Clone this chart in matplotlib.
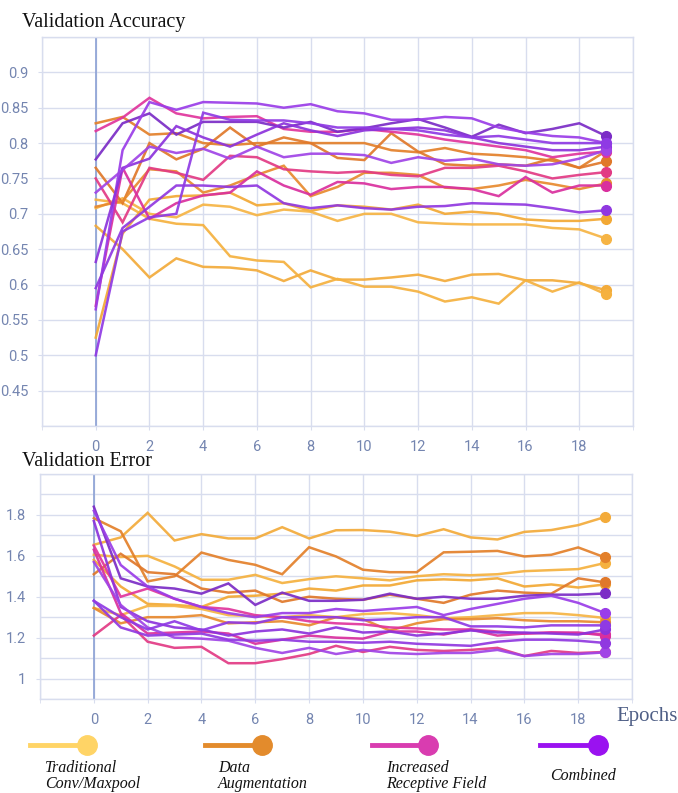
import matplotlib
matplotlib.use("Agg")
import matplotlib.pyplot as plt
from matplotlib.lines import Line2D

epochs = list(range(20))

# ---- validation accuracy, one list per run ----
acc_trad_1 = [0.683, 0.650, 0.610, 0.637, 0.625, 0.624, 0.620, 0.605, 0.620, 0.607, 0.607, 0.610, 0.614, 0.605, 0.614, 0.615, 0.606, 0.606, 0.602, 0.592]
acc_trad_2 = [0.720, 0.715, 0.693, 0.686, 0.684, 0.640, 0.634, 0.632, 0.596, 0.608, 0.597, 0.597, 0.590, 0.576, 0.582, 0.573, 0.606, 0.590, 0.603, 0.586]
acc_trad_3 = [0.525, 0.672, 0.720, 0.725, 0.726, 0.730, 0.712, 0.715, 0.704, 0.712, 0.710, 0.706, 0.713, 0.700, 0.703, 0.700, 0.692, 0.690, 0.690, 0.693]
acc_trad_4 = [0.708, 0.722, 0.700, 0.695, 0.713, 0.710, 0.698, 0.706, 0.703, 0.690, 0.700, 0.700, 0.688, 0.686, 0.685, 0.685, 0.685, 0.680, 0.678, 0.665]

acc_aug_1 = [0.828, 0.837, 0.812, 0.814, 0.800, 0.797, 0.800, 0.800, 0.800, 0.800, 0.800, 0.790, 0.787, 0.793, 0.785, 0.783, 0.780, 0.775, 0.765, 0.789]
acc_aug_2 = [0.765, 0.715, 0.800, 0.777, 0.792, 0.822, 0.795, 0.808, 0.800, 0.779, 0.776, 0.814, 0.788, 0.770, 0.768, 0.770, 0.768, 0.778, 0.765, 0.774]
acc_aug_3 = [0.710, 0.718, 0.763, 0.760, 0.730, 0.740, 0.755, 0.768, 0.725, 0.738, 0.758, 0.758, 0.755, 0.737, 0.735, 0.740, 0.748, 0.742, 0.735, 0.743]

acc_rf_1 = [0.817, 0.836, 0.864, 0.842, 0.835, 0.837, 0.838, 0.820, 0.816, 0.816, 0.820, 0.816, 0.812, 0.805, 0.800, 0.795, 0.790, 0.780, 0.785, 0.788]
acc_rf_2 = [0.750, 0.688, 0.765, 0.758, 0.748, 0.782, 0.780, 0.763, 0.760, 0.758, 0.760, 0.755, 0.753, 0.765, 0.765, 0.768, 0.760, 0.750, 0.755, 0.759]
acc_rf_3 = [0.570, 0.765, 0.693, 0.715, 0.726, 0.730, 0.760, 0.740, 0.727, 0.745, 0.743, 0.735, 0.738, 0.738, 0.735, 0.725, 0.752, 0.730, 0.740, 0.740]

acc_comb_1 = [0.777, 0.828, 0.842, 0.812, 0.830, 0.830, 0.830, 0.822, 0.830, 0.816, 0.821, 0.828, 0.834, 0.822, 0.809, 0.826, 0.814, 0.820, 0.828, 0.810]
acc_comb_2 = [0.565, 0.790, 0.858, 0.847, 0.858, 0.857, 0.856, 0.850, 0.855, 0.845, 0.842, 0.833, 0.833, 0.837, 0.835, 0.822, 0.815, 0.810, 0.808, 0.800]
acc_comb_3 = [0.632, 0.765, 0.778, 0.824, 0.808, 0.795, 0.812, 0.828, 0.818, 0.810, 0.818, 0.820, 0.822, 0.818, 0.808, 0.800, 0.795, 0.790, 0.790, 0.795]
acc_comb_4 = [0.730, 0.762, 0.795, 0.786, 0.792, 0.778, 0.795, 0.780, 0.785, 0.785, 0.783, 0.772, 0.780, 0.775, 0.778, 0.770, 0.768, 0.770, 0.778, 0.790]
acc_comb_5 = [0.595, 0.680, 0.710, 0.740, 0.740, 0.738, 0.740, 0.715, 0.708, 0.712, 0.708, 0.706, 0.710, 0.711, 0.715, 0.714, 0.713, 0.708, 0.702, 0.705]
acc_comb_6 = [0.500, 0.675, 0.695, 0.700, 0.843, 0.833, 0.832, 0.832, 0.828, 0.822, 0.822, 0.820, 0.818, 0.812, 0.808, 0.810, 0.805, 0.800, 0.800, 0.800]

# ---- validation error ----
err_trad_1 = [1.654, 1.690, 1.810, 1.675, 1.706, 1.685, 1.685, 1.740, 1.685, 1.725, 1.726, 1.718, 1.697, 1.730, 1.690, 1.680, 1.717, 1.726, 1.750, 1.790]
err_trad_2 = [1.605, 1.594, 1.600, 1.548, 1.483, 1.483, 1.507, 1.467, 1.486, 1.500, 1.490, 1.480, 1.500, 1.510, 1.505, 1.510, 1.525, 1.530, 1.535, 1.565]
err_trad_3 = [1.580, 1.450, 1.365, 1.360, 1.350, 1.400, 1.405, 1.415, 1.440, 1.430, 1.455, 1.455, 1.480, 1.485, 1.480, 1.490, 1.450, 1.460, 1.445, 1.460]
err_trad_4 = [1.345, 1.310, 1.355, 1.355, 1.340, 1.310, 1.305, 1.300, 1.310, 1.300, 1.315, 1.320, 1.310, 1.295, 1.300, 1.310, 1.320, 1.320, 1.310, 1.296]

err_aug_1 = [1.784, 1.720, 1.475, 1.500, 1.616, 1.580, 1.556, 1.510, 1.642, 1.597, 1.532, 1.520, 1.520, 1.617, 1.620, 1.624, 1.597, 1.605, 1.641, 1.592]
err_aug_2 = [1.510, 1.610, 1.520, 1.510, 1.440, 1.420, 1.430, 1.375, 1.400, 1.390, 1.385, 1.410, 1.390, 1.370, 1.410, 1.430, 1.420, 1.415, 1.490, 1.470]
err_aug_3 = [1.345, 1.270, 1.300, 1.300, 1.310, 1.270, 1.275, 1.280, 1.260, 1.300, 1.290, 1.235, 1.270, 1.290, 1.290, 1.295, 1.285, 1.280, 1.280, 1.275]

err_rf_1 = [1.650, 1.400, 1.440, 1.390, 1.350, 1.340, 1.310, 1.300, 1.280, 1.270, 1.265, 1.250, 1.245, 1.240, 1.240, 1.230, 1.220, 1.225, 1.220, 1.218]
err_rf_2 = [1.210, 1.310, 1.180, 1.150, 1.155, 1.075, 1.075, 1.095, 1.120, 1.160, 1.130, 1.155, 1.140, 1.135, 1.140, 1.150, 1.110, 1.135, 1.125, 1.130]
err_rf_3 = [1.630, 1.320, 1.220, 1.225, 1.230, 1.220, 1.170, 1.190, 1.210, 1.200, 1.195, 1.230, 1.230, 1.215, 1.240, 1.210, 1.220, 1.225, 1.225, 1.210]

err_comb_1 = [1.840, 1.490, 1.450, 1.440, 1.415, 1.465, 1.360, 1.420, 1.380, 1.380, 1.385, 1.415, 1.390, 1.400, 1.390, 1.390, 1.405, 1.410, 1.410, 1.416]
err_comb_2 = [1.820, 1.555, 1.450, 1.390, 1.350, 1.320, 1.300, 1.320, 1.320, 1.340, 1.330, 1.340, 1.350, 1.310, 1.340, 1.365, 1.390, 1.405, 1.370, 1.320]
err_comb_3 = [1.770, 1.350, 1.280, 1.250, 1.240, 1.210, 1.230, 1.240, 1.220, 1.250, 1.225, 1.230, 1.210, 1.220, 1.235, 1.225, 1.225, 1.220, 1.215, 1.240]
err_comb_4 = [1.570, 1.360, 1.250, 1.200, 1.195, 1.185, 1.150, 1.125, 1.150, 1.120, 1.140, 1.125, 1.120, 1.125, 1.125, 1.140, 1.110, 1.120, 1.120, 1.128]
err_comb_5 = [1.380, 1.250, 1.210, 1.215, 1.220, 1.190, 1.185, 1.190, 1.180, 1.180, 1.175, 1.180, 1.170, 1.165, 1.160, 1.180, 1.190, 1.190, 1.185, 1.174]
err_comb_6 = [1.380, 1.300, 1.240, 1.280, 1.235, 1.275, 1.270, 1.300, 1.300, 1.300, 1.285, 1.290, 1.300, 1.300, 1.255, 1.255, 1.250, 1.260, 1.260, 1.260]

legend_labels = ["Traditional\nConv/Maxpool", "Data\nAugmentation", "Increased\nReceptive Field", "Combined"]
legend_colors = ["#ffd466", "#e38b2c", "#d93cb0", "#9a12f0"]

YEL = ["#f3ab3a", "#f5b13f", "#f2a834", "#f6b444"]
ORA = ["#e3802a", "#e0782a", "#e88a2e"]
PNK = ["#e0359c", "#e23a84", "#d92f9e"]
PUR = ["#7b2cc6", "#9a3de8", "#8c33dc", "#a044e6", "#9038e0", "#8f3ae4"]

acc_runs = ([(r, c) for r, c in zip([acc_trad_1, acc_trad_2, acc_trad_3, acc_trad_4], YEL)]
            + [(r, c) for r, c in zip([acc_aug_1, acc_aug_2, acc_aug_3], ORA)]
            + [(r, c) for r, c in zip([acc_rf_1, acc_rf_2, acc_rf_3], PNK)]
            + [(r, c) for r, c in zip([acc_comb_1, acc_comb_2, acc_comb_3, acc_comb_4, acc_comb_5, acc_comb_6], PUR)])
err_runs = ([(r, c) for r, c in zip([err_trad_1, err_trad_2, err_trad_3, err_trad_4], YEL)]
            + [(r, c) for r, c in zip([err_aug_1, err_aug_2, err_aug_3], ORA)]
            + [(r, c) for r, c in zip([err_rf_1, err_rf_2, err_rf_3], PNK)]
            + [(r, c) for r, c in zip([err_comb_1, err_comb_2, err_comb_3, err_comb_4, err_comb_5, err_comb_6], PUR)])

GRID = "#d8ddee"
TICK = "#7485b0"
ZERO = "#8aa0d4"

W, H = 678, 793
fig = plt.figure(figsize=(W / 100, H / 100), dpi=100)


def style_axes(ax, ymin, ymax, ystep_grid, yticks, ylabels):
    ax.set_xlim(-2, 20)
    ax.set_ylim(ymin, ymax)
    ax.set_xticks(range(0, 20, 2))
    ax.set_xticks(range(-2, 21, 2), minor=True)
    ax.set_yticks(yticks)
    ax.set_yticklabels(ylabels)
    n = int(round((ymax - ymin) / ystep_grid))
    ax.set_yticks([ymin + i * ystep_grid for i in range(n + 1)], minor=True)
    ax.grid(True, which="both", color=GRID, lw=1.0)
    ax.axvline(0, color=ZERO, lw=1.2, zorder=1.5)
    for s in ax.spines.values():
        s.set_color(GRID)
        s.set_linewidth(1.0)
    ax.tick_params(which="both", length=3, color=GRID, labelcolor=TICK, labelsize=10.5, pad=7)
    ax.tick_params(axis="y", which="minor", length=0)
    for lab in ax.get_xticklabels() + ax.get_yticklabels():
        lab.set_fontfamily("Roboto")
    ax.set_axisbelow(True)


def draw_runs(ax, runs):
    for vals, col in runs:
        ax.plot(epochs, vals, color=col, lw=1.8, alpha=0.92, solid_joinstyle="miter", zorder=2)
        ax.plot(epochs[-1], vals[-1], "o", color=col, ms=7, zorder=3)


ax1 = fig.add_axes([42 / W, 1 - 426 / H, (633 - 42) / W, (426 - 37) / H])
style_axes(ax1, 0.40, 0.95, 0.05,
           [0.45, 0.5, 0.55, 0.6, 0.65, 0.7, 0.75, 0.8, 0.85, 0.9],
           ["0.45", "0.5", "0.55", "0.6", "0.65", "0.7", "0.75", "0.8", "0.85", "0.9"])
draw_runs(ax1, acc_runs)

ax2 = fig.add_axes([40 / W, 1 - 699 / H, (632 - 40) / W, (699 - 474) / H])
style_axes(ax2, 0.9, 2.0, 0.1,
           [1.0, 1.2, 1.4, 1.6, 1.8], ["1", "1.2", "1.4", "1.6", "1.8"])
draw_runs(ax2, err_runs)

fig.text(22 / W, 1 - 22 / H, "Validation Accuracy", family="Liberation Serif", fontsize=14.5,
         va="center", ha="left", color="#111111")
fig.text(22 / W, 1 - 462 / H, "Validation Error", family="Liberation Serif", fontsize=14.5,
         va="center", ha="left", color="#111111")
fig.text(616 / W, 1 - 716 / H, "Epochs", family="Liberation Serif", fontsize=15,
         va="center", ha="left", color="#4f5f86")

# legend drawn in figure coordinates
leg_line_x = [(30, 87), (205, 262), (372, 428), (540, 598)]
leg_text_x = [45, 218, 386, 550]
ly = 1 - 745 / H
for (x0, x1), tx, lab, col in zip(leg_line_x, leg_text_x, legend_labels, legend_colors):
    fig.add_artist(Line2D([x0 / W, x1 / W], [ly, ly], color=col, lw=3.5, transform=fig.transFigure))
    fig.add_artist(Line2D([x1 / W], [ly], marker="o", ms=14, color=col, transform=fig.transFigure))
    fig.text(tx / W, 1 - 776 / H, lab, family="Liberation Serif", style="italic", fontsize=11.5,
             va="center", ha="left", color="#111111", linespacing=0.95)

fig.savefig("out.png", dpi=100, facecolor="white")
